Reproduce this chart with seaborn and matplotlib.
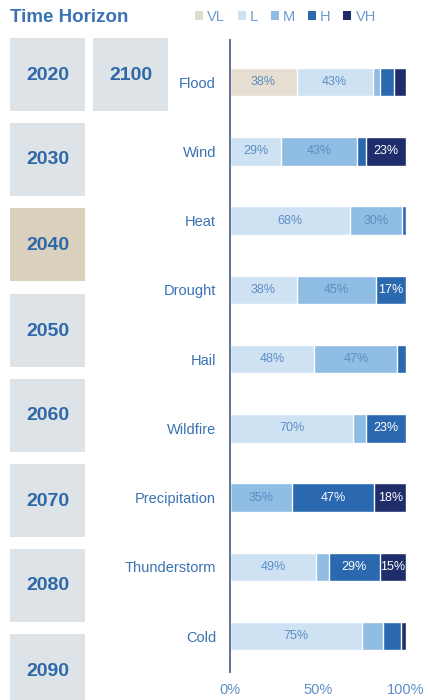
import numpy as np
import pandas as pd
import seaborn as sns
import matplotlib.pyplot as plt
from matplotlib.patches import Rectangle, Patch

# data (percent of each hazard per risk level)
hazards = ['Flood', 'Wind', 'Heat', 'Drought', 'Hail', 'Wildfire',
           'Precipitation', 'Thunderstorm', 'Cold']
levels = ['VL', 'L', 'M', 'H', 'VH']
vl = [38, 0, 0, 0, 0, 0, 0, 0, 0]
l = [43, 29, 68, 38, 48, 70, 0, 49, 75]
m = [4, 43, 30, 45, 47, 7, 35, 7, 12]
h = [8, 5, 2, 17, 5, 23, 47, 29, 10]
vh = [7, 23, 0, 0, 0, 0, 18, 15, 3]
x_ticks = [0, 50, 100]
x_tick_labels = ['0%', '50%', '100%']

years = ['2020', '2030', '2040', '2050', '2060', '2070', '2080', '2090']
extra_year = '2100'
selected_year = '2040'

colors = {'VL': '#e5ded1', 'L': '#cfe2f3', 'M': '#8fbde3',
          'H': '#2a68b0', 'VH': '#1f2e6b'}
text_blue = '#3a72b4'
label_blue = '#5b8ec4'
box_grey = '#dde3e6'
box_tan = '#d9d1bd'

sns.set_theme(style='white')
plt.rcParams['font.family'] = ['Liberation Sans', 'DejaVu Sans']

df = pd.DataFrame({'hazard': hazards, 'VL': vl, 'L': l, 'M': m, 'H': h, 'VH': vh})
cum = df[levels].cumsum(axis=1)
for lev in levels:
    df['cum_' + lev] = cum[lev]

W, H = 428, 700
fig = plt.figure(figsize=(W / 100, H / 100), dpi=100)


def fx(px):
    return px / W


def fy(py):
    return 1 - py / H


ax = fig.add_axes([fx(230), fy(672), fx(406) - fx(230), fy(40) - fy(672)])

# stacked bars: draw cumulative totals from the top level down
for lev in reversed(levels):
    sns.barplot(data=df, x='cum_' + lev, y='hazard', order=hazards,
                color=colors[lev], saturation=1, width=0.41, errorbar=None,
                orient='h', ax=ax)

# percentage labels inside the wide segments
for i, row in df.iterrows():
    for lev in levels:
        val = row[lev]
        if val >= 15:
            xc = row['cum_' + lev] - val / 2
            c = 'white' if lev in ('H', 'VH') else label_blue
            ax.text(xc, i, f'{val}%', ha='center', va='center',
                    fontsize=9, color=c)

ax.set_xlim(0, 100)
ax.set_ylim(8.52, -0.61)
ax.set_xticks(x_ticks)
ax.set_xticklabels(x_tick_labels)
ax.set_xlabel('')
ax.set_ylabel('')
ax.tick_params(axis='x', length=0, pad=8, labelsize=10.5, labelcolor=label_blue)
ax.tick_params(axis='y', length=0, pad=10, labelsize=10.5, labelcolor=text_blue)
for s in ['top', 'right', 'bottom']:
    ax.spines[s].set_visible(False)
ax.spines['left'].set_color('#5f7391')
ax.spines['left'].set_linewidth(1.4)
ax.set_facecolor('none')

# time horizon boxes on the left
box_tops = [38, 123, 208, 294, 379, 464, 549, 634]
for yr, top in zip(years, box_tops):
    fc = box_tan if yr == selected_year else box_grey
    fig.add_artist(Rectangle((fx(10), fy(top + 73)), fx(75), fy(0) - fy(73),
                             transform=fig.transFigure, facecolor=fc,
                             edgecolor='none', zorder=0))
    fig.text(fx(47.5), fy(top + 37), yr, ha='center', va='center',
             fontsize=14, fontweight='bold', color='#2f68a8')
fig.add_artist(Rectangle((fx(93), fy(111)), fx(75), fy(0) - fy(73),
                         transform=fig.transFigure, facecolor=box_grey,
                         edgecolor='none', zorder=0))
fig.text(fx(130.5), fy(75), extra_year, ha='center', va='center',
         fontsize=14, fontweight='bold', color='#2f68a8')

fig.text(fx(10), fy(17), 'Time Horizon', ha='left', va='center',
         fontsize=13.5, fontweight='bold', color=text_blue)

handles = [Patch(facecolor=colors[lev], edgecolor='none') for lev in levels]
handles[0] = Patch(facecolor='#dedbd0', edgecolor='none')
fig.legend(handles, levels, ncol=5, loc='center left',
           bbox_to_anchor=(fx(195), fy(17)), frameon=False,
           handlelength=0.55, handleheight=0.55, handletextpad=0.3,
           columnspacing=0.85, fontsize=10.5, labelcolor='#6a9bd0',
           borderaxespad=0, borderpad=0)

fig.savefig('out.png', dpi=100)
